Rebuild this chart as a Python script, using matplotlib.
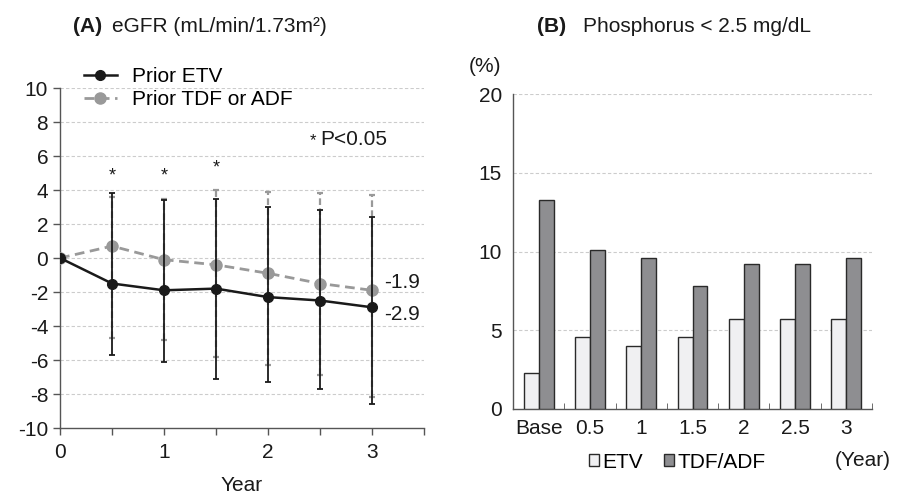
import matplotlib
matplotlib.use("Agg")
import matplotlib.pyplot as plt
import numpy as np

plt.rcParams['font.family'] = ['Liberation Sans', 'DejaVu Sans']
plt.rcParams['axes.unicode_minus'] = False

# Panel A data
years = [0, 0.5, 1, 1.5, 2, 2.5, 3]
etv_mean = [0, -1.5, -1.9, -1.8, -2.3, -2.5, -2.9]
etv_hi = [0, 3.8, 3.4, 3.5, 3.0, 2.8, 2.4]
etv_lo = [0, -5.7, -6.1, -7.1, -7.3, -7.7, -8.6]
tdf_mean = [0, 0.7, -0.1, -0.4, -0.9, -1.5, -1.9]
tdf_hi = [0, 3.6, 3.5, 4.0, 3.9, 3.8, 3.7]
tdf_lo = [0, -4.7, -4.8, -5.8, -6.3, -6.9, -8.2]
star_x = [0.5, 1, 1.5]
star_y = [4.8, 4.8, 5.3]

# Panel B data
categories = ['Base', '0.5', '1', '1.5', '2', '2.5', '3']
etv_pct = [2.3, 4.6, 4.0, 4.6, 5.7, 5.7, 5.7]
tdf_pct = [13.3, 10.1, 9.6, 7.8, 9.2, 9.2, 9.6]

W, H = 897, 496
fig = plt.figure(figsize=(W/100, H/100), dpi=100)

dark = '#1a1a1a'
gray = '#999999'
axcol = '#555555'
FS = 15

# ---------- Panel A ----------
axA = fig.add_axes([60/W, 1-428/H, (424-60)/W, (428-88)/H])
ye_etv = [np.array(etv_mean) - np.array(etv_lo), np.array(etv_hi) - np.array(etv_mean)]
ye_tdf = [np.array(tdf_mean) - np.array(tdf_lo), np.array(tdf_hi) - np.array(tdf_mean)]

eb2 = axA.errorbar(years[1:], tdf_mean[1:], yerr=[ye_tdf[0][1:], ye_tdf[1][1:]], fmt='none',
                   ecolor=gray, elinewidth=1.6, capsize=2.5, capthick=1.6, zorder=2)
for lc in eb2[2]:
    lc.set_linestyle((0, (3, 1.5)))
axA.plot(years, tdf_mean, color=gray, lw=2, ls=(0, (3.5, 2)), marker='o', ms=8,
         mfc=gray, mec=gray, label='Prior TDF or ADF', zorder=3)
axA.errorbar(years[1:], etv_mean[1:], yerr=[ye_etv[0][1:], ye_etv[1][1:]], fmt='none',
             ecolor=dark, elinewidth=1.3, capsize=2.5, capthick=1.3, zorder=4)
axA.plot(years, etv_mean, color=dark, lw=1.8, marker='o', ms=7, mfc=dark, mec=dark,
         label='Prior ETV', zorder=5)

for sx, sy in zip(star_x, star_y):
    axA.text(sx, sy, '*', ha='center', va='center', fontsize=13, color=dark)
axA.text(3.12, -1.45, '-1.9', fontsize=FS, va='center', ha='left', color=dark)
axA.text(3.12, -3.35, '-2.9', fontsize=FS, va='center', ha='left', color=dark)
axA.text(2.43, 6.9, '*', fontsize=12, va='center', ha='center', color=dark)
axA.text(2.5, 7.0, 'P<0.05', fontsize=FS, va='center', ha='left', color=dark)

axA.set_xlim(0, 3.5)
axA.set_ylim(-10, 10)
axA.set_yticks(np.arange(-10, 11, 2))
axA.set_xticks([0, 1, 2, 3])
axA.set_xticks([0.5, 1.5, 2.5, 3.5], minor=True)
axA.tick_params(axis='both', labelsize=FS, colors=axcol, labelcolor=dark, length=5, width=1)
axA.tick_params(axis='x', which='minor', length=5, width=1, colors=axcol)
axA.tick_params(axis='x', pad=6)
for y in range(-8, 11, 2):
    axA.axhline(y, color='#cccccc', lw=0.8, ls=(0, (3, 2)), zorder=0)
for s in ['top', 'right']:
    axA.spines[s].set_visible(False)
for s in ['left', 'bottom']:
    axA.spines[s].set_color(axcol)
    axA.spines[s].set_linewidth(1)
axA.set_xlabel('Year', fontsize=FS, labelpad=10, color=dark)
handles, labels = axA.get_legend_handles_labels()
leg = axA.legend(handles[::-1], labels[::-1], loc='upper left', bbox_to_anchor=(0.065, 1.062),
                 frameon=False, fontsize=FS, handlelength=1.6, handletextpad=0.7,
                 labelspacing=0.2, borderaxespad=0, borderpad=0)
fig.text(73/W, 1-26/H, '(A)', fontsize=FS, fontweight='bold', va='center', ha='left', color=dark)
fig.text(112/W, 1-26/H, 'eGFR (mL/min/1.73m²)', fontsize=FS, va='center', ha='left', color=dark)

# ---------- Panel B ----------
axB = fig.add_axes([513/W, 1-409/H, (872-513)/W, (409-94)/H])
x = np.arange(len(categories))
bw = 0.29
axB.bar(x - bw/2, etv_pct, width=bw, color='#f0f0f2', edgecolor='#2a2a2a', linewidth=1, label='ETV', zorder=3)
axB.bar(x + bw/2, tdf_pct, width=bw, color='#8e8e91', edgecolor='#2a2a2a', linewidth=1, label='TDF/ADF', zorder=3)
axB.set_xlim(-0.5, len(categories) - 0.5)
axB.set_ylim(0, 20)
axB.set_yticks([0, 5, 10, 15, 20])
axB.set_xticks(x)
axB.set_xticklabels(categories)
axB.set_xticks(np.arange(-0.5, len(categories), 1), minor=True)
axB.tick_params(axis='x', which='major', length=0, labelsize=FS, labelcolor=dark, pad=7)
axB.tick_params(axis='x', which='minor', length=4, direction='in', colors=axcol)
axB.tick_params(axis='y', length=0, labelsize=FS, labelcolor=dark, pad=8)
for y in [5, 10, 15, 20]:
    axB.axhline(y, color='#cccccc', lw=0.8, ls=(0, (3, 2)), zorder=0)
for s in ['top', 'right']:
    axB.spines[s].set_visible(False)
for s in ['left', 'bottom']:
    axB.spines[s].set_color(axcol)
    axB.spines[s].set_linewidth(1)
axB.legend(loc='center', bbox_to_anchor=((677 - 513)/(872 - 513), -(462 - 409)/(409 - 94)), ncol=2,
           frameon=False, fontsize=FS, handlelength=0.5, handleheight=0.5, handletextpad=0.15,
           columnspacing=1.0, borderaxespad=0, borderpad=0)
fig.text(485/W, 1-66/H, '(%)', fontsize=FS, va='center', ha='center', color=dark)
fig.text(835/W, 1-460/H, '(Year)', fontsize=FS, va='center', ha='left', color=dark)
fig.text(537/W, 1-26/H, '(B)', fontsize=FS, fontweight='bold', va='center', ha='left', color=dark)
fig.text(583/W, 1-26/H, 'Phosphorus < 2.5 mg/dL', fontsize=FS, va='center', ha='left', color=dark)

fig.savefig('out.png', dpi=100)
